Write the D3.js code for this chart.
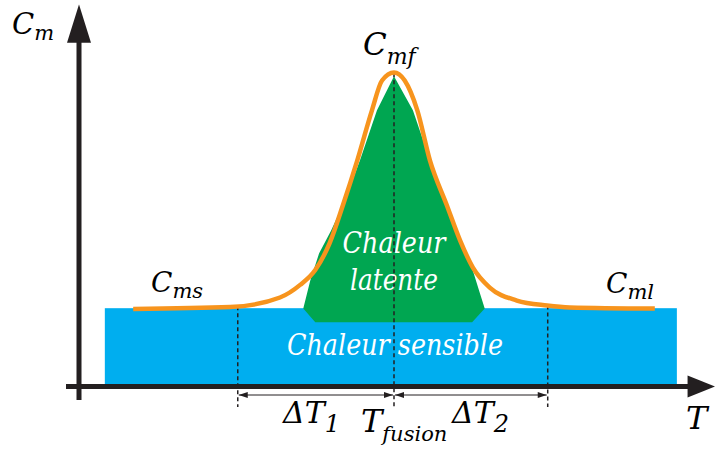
<!DOCTYPE html>
<html><head><meta charset="utf-8">
<script src="https://cdn.jsdelivr.net/npm/d3@7"></script>
</head><body style="margin:0">
<svg id="chart" width="715" height="453"></svg>
<script>
// ---- data (T in arbitrary units 0..100, Cm in arbitrary units 0..100) ----
const curveT  = [8.6, 24.0, 31.9, 35.1, 37.5, 39.8, 41.9, 44.1, 46.5, 48.1, 50.0, 51.7, 53.7, 55.7, 58.4, 60.5, 62.5, 65.2, 69.5, 74.3, 77.9, 91.4];
const curveCm = [20.3, 20.8, 23.3, 26.6, 30.5, 37.6, 47.5, 58.8, 72.3, 80.1, 82.2, 80.1, 72.3, 59.2, 47.4, 38.2, 31.2, 25.9, 22.5, 21.2, 20.7, 20.4];
const latentT  = [50.0, 47.3, 44.6, 42.2, 40.0, 38.1, 36.7, 35.6, 37.5, 62.4, 64.4, 63.5, 62.5, 60.5, 58.3, 55.7, 53.0];
const latentCm = [81.2, 72.3, 59.2, 48.7, 40.8, 34.8, 27.7, 20.4, 16.8, 16.8, 20.4, 25.1, 30.4, 38.2, 47.4, 59.2, 72.3];
const sensibleT  = [4.1, 94.9];
const sensibleCm = [0, 20.5];
const markT = [25.2, 50.0, 74.4];          // T1, Tfusion, T2
const markCm = [21.0, 82.0, 21.2];
const labels = {cm: "C", cmSub: "m", t: "T", cmf: "mf", cms: "ms", cml: "ml",
                latent1: "Chaleur", latent2: "latente", sensible: "Chaleur sensible",
                dt1: "1", dt2: "2", tf: "fusion"};

const svg = d3.select("#chart");
const x = d3.scaleLinear().domain([0, 100]).range([79, 709]);
const y = d3.scaleLinear().domain([0, 100]).range([386.5, 4.5]);
const AX = "#231f20";

function txt(px, py, size) {
  return svg.append("text").attr("x", px).attr("y", py).attr("font-size", size)
    .attr("font-style", "italic").attr("font-family", "DejaVu Serif");
}

// sensible heat block
svg.append("rect")
  .attr("x", x(sensibleT[0])).attr("y", y(sensibleCm[1]))
  .attr("width", x(sensibleT[1]) - x(sensibleT[0]))
  .attr("height", y(sensibleCm[0]) - y(sensibleCm[1]))
  .attr("fill", "#00aeef");

// latent heat polygon
const latentPts = latentT.map((t, i) => [x(t), y(latentCm[i])]);
svg.append("path")
  .attr("d", d3.line()(latentPts) + "Z")
  .attr("fill", "#00a651");

// white labels
txt(x(markT[1]), 253, 30).attr("text-anchor", "middle").attr("fill", "#fff")
  .attr("textLength", 103).attr("lengthAdjust", "spacingAndGlyphs").text(labels.latent1);
txt(x(markT[1]), 290, 30).attr("text-anchor", "middle").attr("fill", "#fff")
  .attr("textLength", 88).attr("lengthAdjust", "spacingAndGlyphs").text(labels.latent2);
txt(x(markT[1]) + 1, 355, 30).attr("text-anchor", "middle").attr("fill", "#fff")
  .attr("textLength", 216).attr("lengthAdjust", "spacingAndGlyphs").text(labels.sensible);

// dashed markers
svg.selectAll("line.mark").data(markT).enter().append("line")
  .attr("x1", d => x(d)).attr("x2", d => x(d))
  .attr("y1", (d, i) => y(markCm[i])).attr("y2", 407)
  .attr("stroke", AX).attr("stroke-width", 1.5).attr("stroke-dasharray", "4,3");

// orange curve
const pts = curveT.map((t, i) => [x(t), y(curveCm[i])]);
svg.append("path")
  .attr("d", d3.line().curve(d3.curveMonotoneX)(pts))
  .attr("fill", "none").attr("stroke", "#f7941d").attr("stroke-width", 4.5)
  .attr("stroke-linecap", "butt");

// axes
svg.append("line").attr("x1", x(0)).attr("x2", x(0)).attr("y1", 400).attr("y2", y(92))
  .attr("stroke", AX).attr("stroke-width", 5);
svg.append("path")
  .attr("d", `M${x(0)},${y(100)}L${x(0) + 12},${y(90)}L${x(0) - 12},${y(90)}Z`)
  .attr("fill", AX);
svg.append("line").attr("x1", 66).attr("x2", x(97)).attr("y1", y(0)).attr("y2", y(0))
  .attr("stroke", AX).attr("stroke-width", 5);
svg.append("path")
  .attr("d", `M${x(101)},${y(0)}L${x(96.6)},${y(0) - 11}L${x(96.6)},${y(0) + 11}Z`)
  .attr("fill", AX);

// dimension arrows
const dimY = 395;
function dimArrow(a, b) {
  const x1 = x(a) + 1, x2 = x(b) - 1;
  svg.append("line").attr("x1", x1).attr("x2", x2).attr("y1", dimY).attr("y2", dimY)
    .attr("stroke", AX).attr("stroke-width", 1);
  svg.append("path").attr("d", `M${x1},${dimY}L${x1 + 9},${dimY - 3}L${x1 + 9},${dimY + 3}Z`).attr("fill", AX);
  svg.append("path").attr("d", `M${x2},${dimY}L${x2 - 9},${dimY - 3}L${x2 - 9},${dimY + 3}Z`).attr("fill", AX);
}
dimArrow(markT[0], markT[1]);
dimArrow(markT[1], markT[2]);

// black labels
function sublabel(px, py, main, sub, size, subSize, dy) {
  const t = txt(px, py, size).attr("fill", "#000");
  t.append("tspan").text(main);
  t.append("tspan").attr("font-size", subSize).attr("dy", dy).text(sub);
  return t;
}
sublabel(12, 34, labels.cm, labels.cmSub, 29, 21, 6);
sublabel(363, 55, "C", labels.cmf, 31, 22, 9);
sublabel(151, 292, "C", labels.cms, 28, 21, 6);
sublabel(606, 293, "C", labels.cml, 28, 21, 6);
txt(686, 429, 32).text(labels.t);
sublabel(283, 423, "\u0394T", labels.dt1, 30, 24, 9);
sublabel(452, 423, "\u0394T", labels.dt2, 30, 24, 9);
sublabel(361, 432, "T", labels.tf, 32, 21, 9);
</script>
</body></html>
